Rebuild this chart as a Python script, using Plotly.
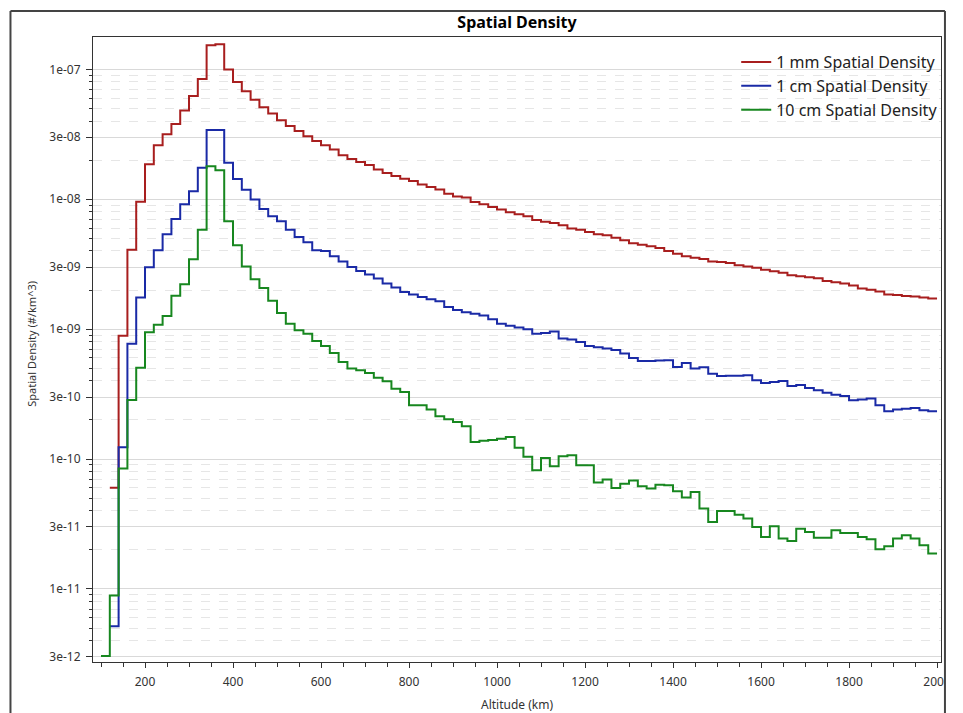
import plotly.graph_objects as go

# ---------------- data ----------------
# bin start altitudes (km), 20 km bins; last bin ends at 2000 km
altitude_km = list(range(100, 2000, 20))
bin_end_km = 2000

# 1 mm spatial density (#/km^3), starts at 120 km
density_1mm = [
    None, 6.0e-11, 8.9e-10, 4.09e-9, 9.58e-9, 1.86e-8, 2.60e-8, 3.16e-8, 3.79e-8, 4.81e-8,
    6.23e-8, 8.42e-8, 1.53e-7, 1.56e-7, 9.95e-8, 7.98e-8, 6.77e-8, 5.84e-8, 5.10e-8, 4.56e-8,
    4.05e-8, 3.66e-8, 3.35e-8, 3.05e-8, 2.81e-8, 2.60e-8, 2.41e-8, 2.18e-8, 2.04e-8, 1.93e-8,
    1.83e-8, 1.69e-8, 1.59e-8, 1.51e-8, 1.44e-8, 1.38e-8, 1.30e-8, 1.24e-8, 1.19e-8, 1.10e-8,
    1.05e-8, 1.03e-8, 9.51e-9, 9.13e-9, 8.71e-9, 8.32e-9, 7.93e-9, 7.65e-9, 7.39e-9, 6.92e-9,
    6.72e-9, 6.56e-9, 6.30e-9, 5.94e-9, 5.83e-9, 5.59e-9, 5.37e-9, 5.27e-9, 5.06e-9, 4.83e-9,
    4.58e-9, 4.47e-9, 4.34e-9, 4.21e-9, 3.99e-9, 3.81e-9, 3.63e-9, 3.55e-9, 3.46e-9, 3.32e-9,
    3.28e-9, 3.23e-9, 3.10e-9, 3.04e-9, 2.97e-9, 2.87e-9, 2.79e-9, 2.72e-9, 2.60e-9, 2.55e-9,
    2.51e-9, 2.46e-9, 2.35e-9, 2.29e-9, 2.24e-9, 2.17e-9, 2.05e-9, 2.01e-9, 1.95e-9, 1.85e-9,
    1.83e-9, 1.80e-9, 1.78e-9, 1.75e-9, 1.72e-9,
]

# 1 cm spatial density (#/km^3), starts at 120 km
density_1cm = [
    None, 5.15e-12, 1.23e-10, 7.73e-10, 1.75e-9, 2.99e-9, 4.04e-9, 5.37e-9, 7.04e-9, 9.13e-9,
    1.15e-8, 1.75e-8, 3.41e-8, 3.41e-8, 1.91e-8, 1.43e-8, 1.18e-8, 9.93e-9, 8.41e-9, 7.39e-9,
    6.76e-9, 5.83e-9, 5.12e-9, 4.66e-9, 4.04e-9, 3.99e-9, 3.63e-9, 3.31e-9, 3.01e-9, 2.80e-9,
    2.63e-9, 2.45e-9, 2.24e-9, 2.09e-9, 1.93e-9, 1.85e-9, 1.77e-9, 1.70e-9, 1.64e-9, 1.48e-9,
    1.40e-9, 1.35e-9, 1.31e-9, 1.27e-9, 1.19e-9, 1.10e-9, 1.06e-9, 1.03e-9, 9.97e-10, 9.23e-10,
    9.33e-10, 9.57e-10, 8.45e-10, 8.30e-10, 7.96e-10, 7.41e-10, 7.24e-10, 7.08e-10, 6.90e-10, 6.48e-10,
    5.99e-10, 5.68e-10, 5.68e-10, 5.72e-10, 5.75e-10, 5.11e-10, 5.48e-10, 4.97e-10, 5.08e-10, 4.54e-10,
    4.35e-10, 4.38e-10, 4.38e-10, 4.41e-10, 4.04e-10, 3.85e-10, 3.92e-10, 3.99e-10, 3.65e-10, 3.71e-10,
    3.52e-10, 3.38e-10, 3.24e-10, 3.13e-10, 3.05e-10, 2.83e-10, 2.87e-10, 2.92e-10, 2.59e-10, 2.33e-10,
    2.40e-10, 2.44e-10, 2.47e-10, 2.37e-10, 2.33e-10,
]

# 10 cm spatial density (#/km^3), starts at 100 km
density_10cm = [
    3.04e-12, 8.88e-12, 8.44e-11, 2.85e-10, 5.05e-10, 9.45e-10, 1.08e-9, 1.26e-9, 1.81e-9, 2.21e-9,
    3.45e-9, 5.83e-9, 1.79e-8, 1.67e-8, 6.76e-9, 4.42e-9, 3.04e-9, 2.42e-9, 2.07e-9, 1.65e-9,
    1.33e-9, 1.10e-9, 9.79e-10, 9.23e-10, 8.10e-10, 7.41e-10, 6.55e-10, 5.58e-10, 4.97e-10, 4.82e-10,
    4.59e-10, 4.23e-10, 3.96e-10, 3.48e-10, 3.28e-10, 2.59e-10, 2.59e-10, 2.40e-10, 2.13e-10, 2.02e-10,
    1.93e-10, 1.79e-10, 1.35e-10, 1.38e-10, 1.40e-10, 1.43e-10, 1.48e-10, 1.22e-10, 1.04e-10, 8.18e-11,
    1.02e-10, 8.79e-11, 1.05e-10, 1.07e-10, 8.94e-11, 8.94e-11, 6.58e-11, 6.94e-11, 5.98e-11, 6.46e-11,
    6.82e-11, 6.16e-11, 5.92e-11, 6.35e-11, 6.27e-11, 5.64e-11, 5.05e-11, 5.57e-11, 4.15e-11, 3.27e-11,
    3.98e-11, 3.98e-11, 3.73e-11, 3.48e-11, 3.00e-11, 2.51e-11, 3.03e-11, 2.44e-11, 2.34e-11, 2.91e-11,
    2.74e-11, 2.48e-11, 2.48e-11, 2.83e-11, 2.69e-11, 2.69e-11, 2.51e-11, 2.41e-11, 2.02e-11, 2.13e-11,
    2.44e-11, 2.59e-11, 2.44e-11, 2.17e-11, 1.87e-11,
]

series_names = ["1 mm Spatial Density", "1 cm Spatial Density", "10 cm Spatial Density"]
series_colors = ["#A81E1E", "#1A2AA6", "#17871F"]

y_tick_values = [3e-12, 1e-11, 3e-11, 1e-10, 3e-10, 1e-9, 3e-9, 1e-8, 3e-8, 1e-7]
y_tick_labels = ["3e-12", "1e-11", "3e-11", "1e-10", "3e-10", "1e-09", "3e-09", "1e-08", "3e-08", "1e-07"]
y_minor_values = [m * 10.0 ** e for e in range(-12, -6) for m in (2, 4, 5, 6, 7, 8, 9)]
x_tick_values = list(range(200, 2001, 200))

FONT = "Segoe UI, Noto Sans, sans-serif"

# ---------------- figure ----------------
fig = go.Figure()
for name, color, vals in zip(series_names, series_colors,
                             [density_1mm, density_1cm, density_10cm]):
    xs = [a for a, v in zip(altitude_km, vals) if v is not None]
    ys = [v for v in vals if v is not None]
    xs = xs + [bin_end_km]
    ys = ys + [ys[-1]]
    fig.add_trace(go.Scatter(
        x=xs, y=ys, mode="lines", name=name,
        line=dict(color=color, width=2, shape="hv"),
    ))

fig.update_layout(
    width=963, height=713,
    margin=dict(l=93, r=12, t=37, b=51),
    paper_bgcolor="white", plot_bgcolor="white",
    font=dict(family=FONT, color="#333333", size=12),
    title=dict(text="<b>Spatial Density</b>", x=0.5, xref="paper",
               y=1 - 22 / 713, yref="container", yanchor="middle",
               font=dict(family=FONT, size=16, color="#000000")),
    showlegend=True,
    legend=dict(x=0.7585, y=0.987, xanchor="left", yanchor="top",
                bgcolor="rgba(0,0,0,0)", borderwidth=0, itemwidth=30,
                font=dict(family=FONT, size=16, color="#222222"),
                tracegroupgap=0),
)

fig.update_xaxes(
    range=[81.8, 2009],
    tickmode="array", tickvals=x_tick_values,
    ticks="outside", ticklen=5, tickcolor="#333333",
    ticklabelstandoff=4,
    showgrid=False, zeroline=False,
    showline=True, linecolor="#333333", linewidth=1, mirror=True,
    minor=dict(dtick=50, tick0=0, ticks="outside", ticklen=4,
               tickcolor="#333333", showgrid=False),
    tickfont=dict(size=12, color="#333333"),
)

fig.update_yaxes(
    type="log", range=[-11.5627, -6.7513],
    tickmode="array", tickvals=y_tick_values, ticktext=y_tick_labels,
    ticks="outside", ticklen=6, tickcolor="#333333",
    ticklabelstandoff=3,
    showgrid=True, gridcolor="#D9D9D9", gridwidth=1,
    zeroline=False,
    showline=True, linecolor="#333333", linewidth=1, mirror=True,
    minor=dict(tickvals=y_minor_values, ticks="outside", ticklen=3,
               tickcolor="#333333", showgrid=True, gridcolor="#E6E6E6",
               griddash="dash", gridwidth=1),
    tickfont=dict(size=12, color="#333333"),
)

fig.add_annotation(text="Spatial Density (#/km^3)", textangle=-90,
                   xref="paper", yref="paper", x=(30 - 93) / 858, y=(662 - 344) / 625,
                   xanchor="center", yanchor="middle",
                   showarrow=False, font=dict(family=FONT, size=11, color="#333333"))
fig.add_annotation(text="Altitude (km)",
                   xref="paper", yref="paper", x=0.5, y=(662 - 704) / 625,
                   xanchor="center", yanchor="middle",
                   showarrow=False, font=dict(family=FONT, size=12, color="#333333"))

# outer frame of the chart panel
px_x = lambda p: (p - 93) / 858
px_y = lambda p: (662 - p) / 625
fig.add_shape(type="rect", xref="paper", yref="paper",
              x0=px_x(955), x1=px_x(975), y0=px_y(730), y1=px_y(0),
              fillcolor="white", line=dict(width=0), layer="above")
fig.add_shape(type="line", xref="paper", yref="paper",
              x0=px_x(9.5), x1=px_x(9.5), y0=px_y(11), y1=px_y(730),
              line=dict(color="#444444", width=2), layer="above")
fig.add_shape(type="line", xref="paper", yref="paper",
              x0=px_x(9.5), x1=px_x(955), y0=px_y(11), y1=px_y(11),
              line=dict(color="#444444", width=2), layer="above")
fig.add_shape(type="line", xref="paper", yref="paper",
              x0=px_x(955), x1=px_x(955), y0=px_y(11), y1=px_y(730),
              line=dict(color="#444444", width=2), layer="above")

fig.write_html("out.html")
